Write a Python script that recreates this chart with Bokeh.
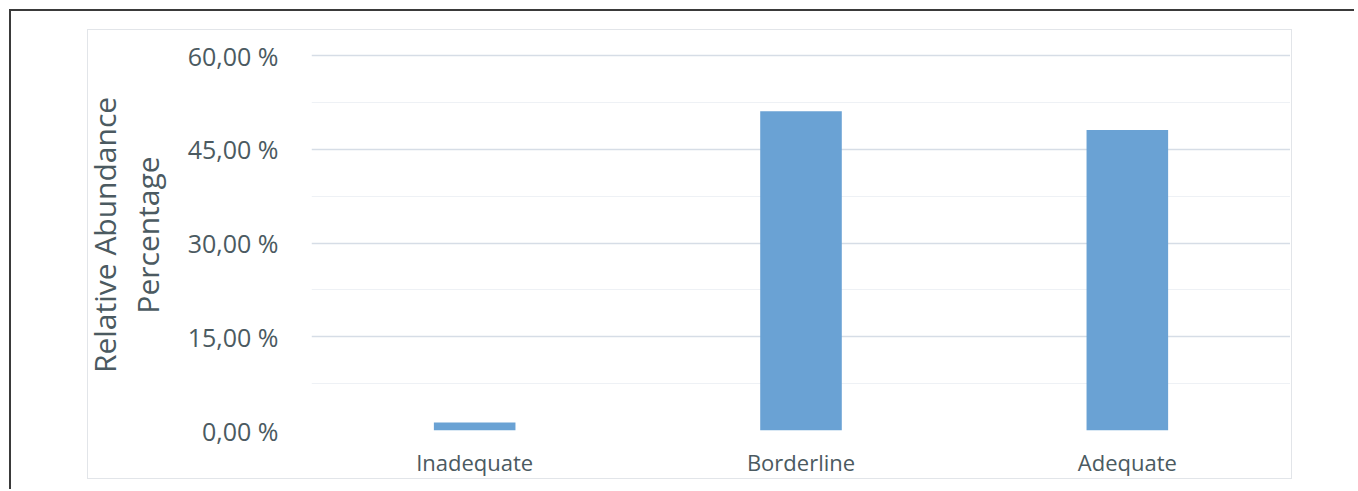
from bokeh.plotting import figure
from bokeh.models import FixedTicker, ColumnDataSource
from bokeh.layouts import column
from bokeh.embed import file_html
from bokeh.resources import INLINE

# ---- data ----
categories = ["Inadequate", "Borderline", "Adequate"]
percentages = [1.3, 51.1, 48.1]
y_ticks = [0, 15, 30, 45, 60]
y_tick_labels = ["0,00 %", "15,00 %", "30,00 %", "45,00 %", "60,00 %"]
y_minor_ticks = [7.5, 22.5, 37.5, 52.5]
y_title = "Relative Abundance\nPercentage"

TEXT = "#4b5a61"
FONT = "Open Sans"
BOX = "#e2e5e9"

source = ColumnDataSource(data=dict(cat=categories, val=percentages))

p = figure(
    x_range=categories,
    y_range=(0, 62.57),
    width=1243,
    height=450,
    output_backend="svg",
    toolbar_location=None,
    min_border_left=244,
    min_border_right=0,
    min_border_top=10,
    min_border_bottom=47,
    styles={"margin-left": "-20px"},
)

p.vbar(x="cat", top="val", width=0.25, source=source,
       fill_color="#6aa2d4", line_color=None)

p.outline_line_color = None
p.background_fill_color = None
p.border_fill_color = None

# grid
p.xgrid.grid_line_color = None
p.ygrid.ticker = FixedTicker(ticks=y_ticks, minor_ticks=y_minor_ticks)
p.ygrid.grid_line_color = "#d6dde6"
p.ygrid.grid_line_width = 1.5
p.ygrid.minor_grid_line_color = "#eef1f5"
p.ygrid.minor_grid_line_width = 1

# y axis
p.yaxis.ticker = FixedTicker(ticks=y_ticks)
p.yaxis.major_label_overrides = {t: l for t, l in zip(y_ticks, y_tick_labels)}
p.yaxis.axis_line_color = None
p.yaxis.major_tick_line_color = None
p.yaxis.minor_tick_line_color = None
p.yaxis.major_label_standoff = 27
p.yaxis.major_label_text_font = FONT
p.yaxis.major_label_text_font_size = "25px"
p.yaxis.major_label_text_color = TEXT
p.yaxis.axis_label = y_title
p.yaxis.axis_label_text_font = FONT
p.yaxis.axis_label_text_font_size = "30px"
p.yaxis.axis_label_text_line_height = 1.05
p.yaxis.axis_label_text_font_style = "normal"
p.yaxis.axis_label_text_color = TEXT
p.yaxis.axis_label_standoff = 17

# x axis
p.xaxis.axis_line_color = None
p.xaxis.major_tick_line_color = None
p.xaxis.minor_tick_line_color = None
p.xaxis.major_label_standoff = 10
p.xaxis.major_label_text_font = FONT
p.xaxis.major_label_text_font_size = "22px"
p.xaxis.major_label_text_color = TEXT

g = f"linear-gradient({BOX},{BOX})"
inner = column(
    p,
    styles={
        "background": (
            f"{g} 0 0/1205px 1px no-repeat, "
            f"{g} 0 100%/1205px 1px no-repeat, "
            f"{g} 0 0/1px 100% no-repeat, "
            f"{g} 1204px 0/1px 100% no-repeat, white"
        ),
    },
)

layout = column(
    inner,
    styles={
        "margin-left": "9px",
        "margin-top": "9px",
        "border-left": "2px solid #3a3a3a",
        "border-top": "2px solid #3a3a3a",
        "padding-left": "76px",
        "padding-top": "18px",
        "padding-right": "44px",
        "padding-bottom": "10px",
    },
)

open("out.html", "w").write(file_html(layout, INLINE))
